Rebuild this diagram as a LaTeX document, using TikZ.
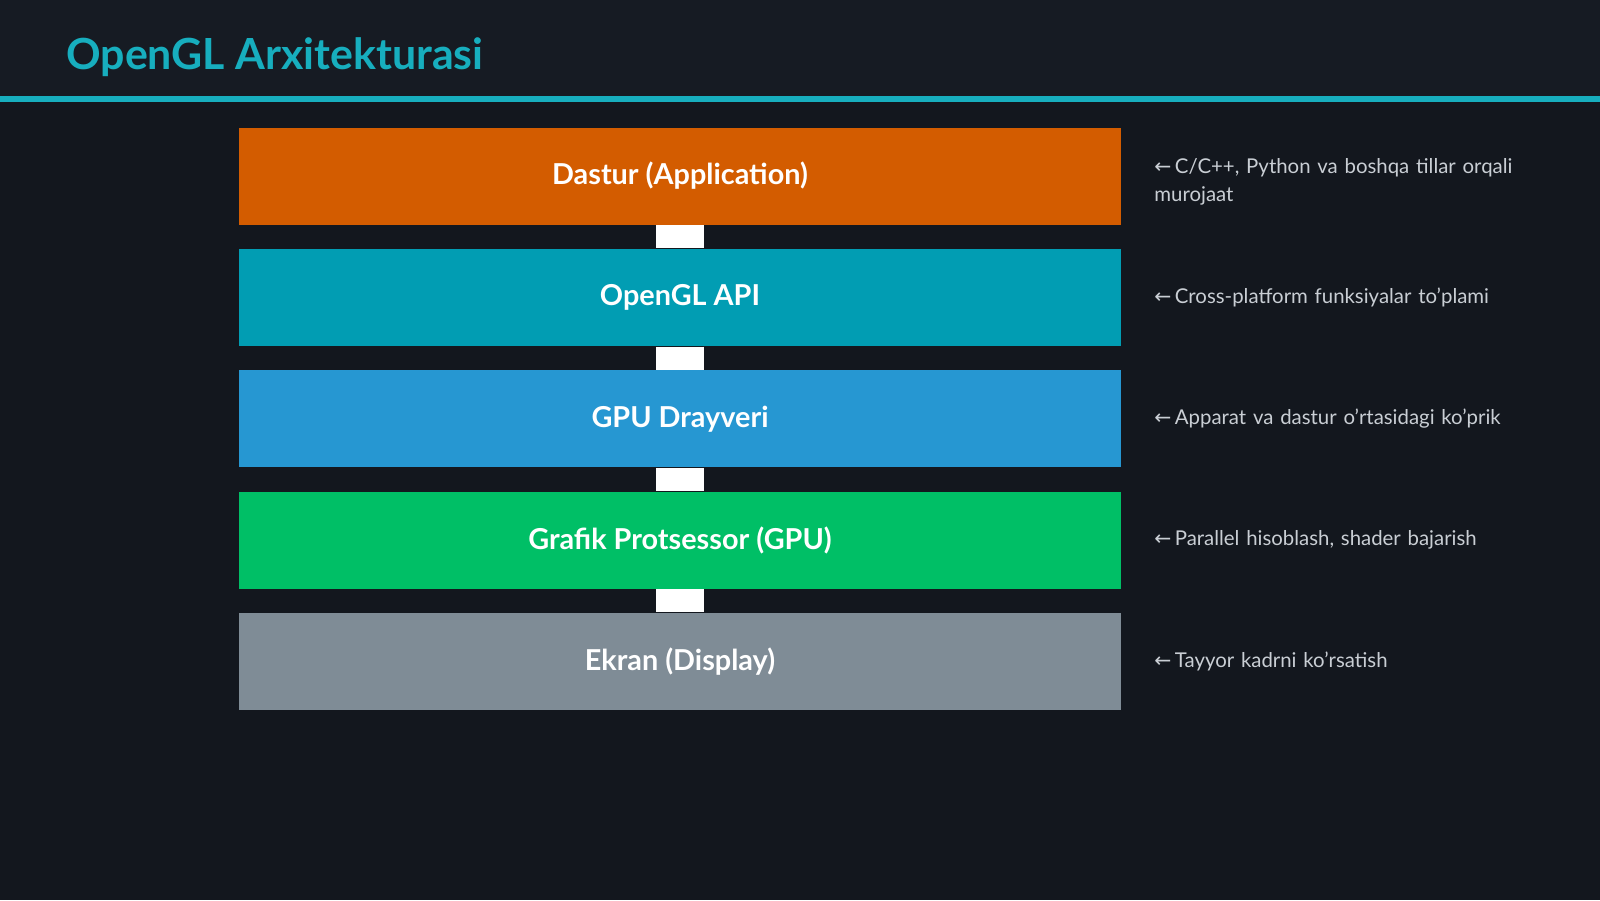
\documentclass[tikz,border=0pt]{standalone}
\usepackage{fontspec}
\setmainfont{Lato}
\newfontfamily\arrowfont{DejaVu Sans}
\usetikzlibrary{positioning}
\definecolor{bgdark}{HTML}{13171E}
\definecolor{headbg}{HTML}{161B23}
\definecolor{accent}{HTML}{17AEBE}
\definecolor{appcol}{HTML}{D35C00}
\definecolor{apicol}{HTML}{019DB3}
\definecolor{drvcol}{HTML}{2697D2}
\definecolor{gpucol}{HTML}{00BF66}
\definecolor{dispcol}{HTML}{7F8C96}
\definecolor{notecol}{HTML}{C9CED4}
\tikzset{
  layer/.style={draw=none, minimum width=8.82cm, minimum height=0.97cm,
    text=white, font=\fontsize{8.2}{10}\selectfont\bfseries},
  link/.style={draw=white, line width=0.48cm},
  note/.style={text=notecol, font=\fontsize{5.8}{8}\selectfont,
    text width=3.8cm, align=left, anchor=west, inner sep=0pt}
}
\newcommand{\larr}{{\arrowfont ←}\,}
\begin{document}
\begin{tikzpicture}
  \useasboundingbox (0,0) rectangle (16,-9);
  \fill[bgdark] (0,0) rectangle (16,-9);
  \fill[headbg] (0,0) rectangle (16,-0.97);
  \fill[accent] (0,-0.96) rectangle (16,-1.02);
  \node[anchor=west, text=accent, font=\fontsize{12.2}{15}\selectfont\bfseries]
    (title) at (0.54,-0.57) {OpenGL Arxitekturasi};
  % layers
  \node[layer, fill=appcol] (app) at (6.8,-1.76) {Dastur (Application)};
  \node[layer, fill=apicol, below=0.23cm of app] (api) {OpenGL API};
  \node[layer, fill=drvcol, below=0.23cm of api] (drv) {GPU Drayveri};
  \node[layer, fill=gpucol, below=0.23cm of drv] (gpu) {Grafik Protsessor (GPU)};
  \node[layer, fill=dispcol, below=0.23cm of gpu] (disp) {Ekran (Display)};
  % links
  \draw[link] (app.south) -- (api.north);
  \draw[link] (api.south) -- (drv.north);
  \draw[link] (drv.south) -- (gpu.north);
  \draw[link] (gpu.south) -- (disp.north);
  % notes
  \node[note, right=0.32cm of app, yshift=-0.06cm] (napp) {\larr C/C++, Python va boshqa tillar orqali murojaat};
  \node[note, right=0.32cm of api] (napi) {\larr Cross-platform funksiyalar to'plami};
  \node[note, right=0.32cm of drv] (ndrv) {\larr Apparat va dastur o'rtasidagi ko'prik};
  \node[note, right=0.32cm of gpu] (ngpu) {\larr Parallel hisoblash, shader bajarish};
  \node[note, right=0.32cm of disp] (ndisp) {\larr Tayyor kadrni ko'rsatish};
\end{tikzpicture}
\end{document}
